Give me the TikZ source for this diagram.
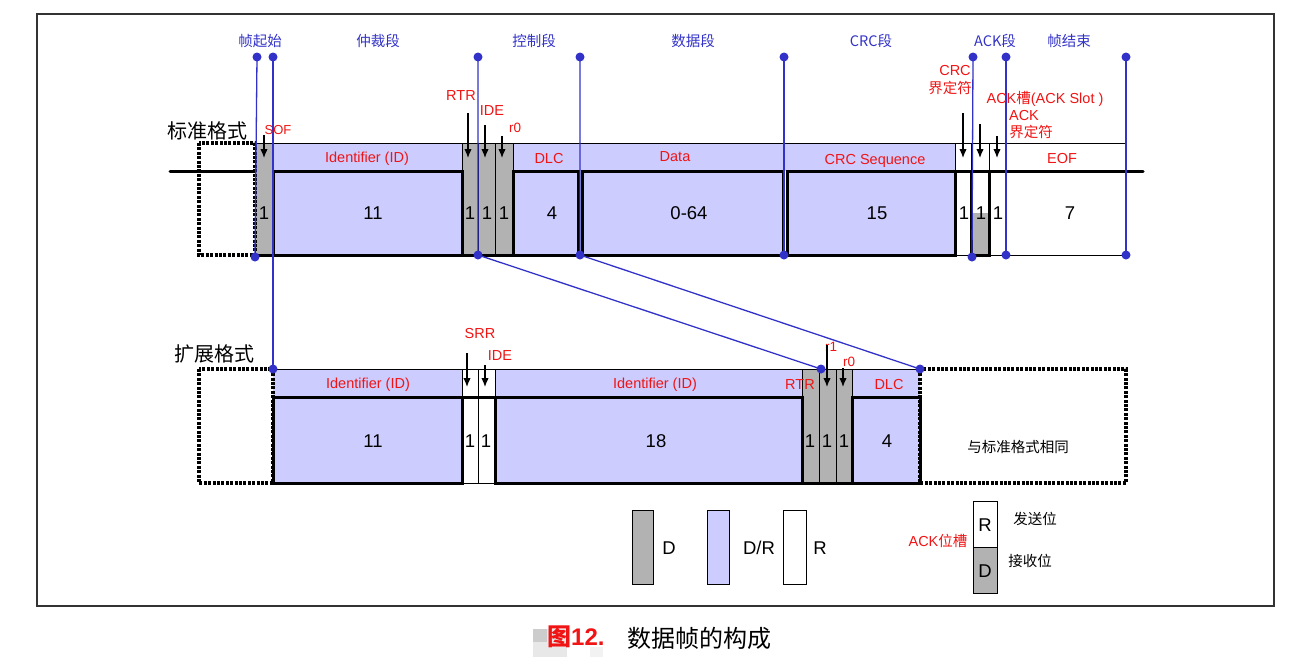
\documentclass[tikz,border=0pt]{standalone}
\usepackage{fontspec}
\setmainfont{Liberation Sans}
\newfontfamily\cjk{Noto Sans CJK SC}
\usepackage{tikz}
\usetikzlibrary{calc, arrows.meta}
\tikzset{>={Latex[length=9pt,width=7.5pt]}}
\definecolor{idblue}{RGB}{204, 204, 255}
\definecolor{bitgray}{RGB}{178, 178, 178}
\definecolor{segblue}{RGB}{50, 50, 200}
\definecolor{lblred}{RGB}{240, 20, 20}
\newcommand{\fsz}[1]{\fontsize{#1}{#1}\selectfont}
\tikzset{
  wave/.style = {line width = 3pt},
  cell/.style = {draw = black, line width = 0.9pt},
  dashbox/.style = {line width = 3.2pt, dash pattern = on 3pt off 1.4pt},
  segline/.style = {segblue, line width = 1.3pt},
  bitarrow/.style = {->, line width = 1.3pt},
  redlbl/.style = {text = lblred, inner sep = 0pt, font = \fsz{14.5}},
  seglbl/.style = {text = segblue, inner sep = 0pt, font = \cjk\fsz{14.5}},
  bitnum/.style = {inner sep = 0pt, font = \fsz{18.5}},
  plainlbl/.style = {inner sep = 0pt, font = \cjk\fsz{14.5}}
}

\begin{document}
\begin{tikzpicture}[x=1pt, y=-1pt]
\useasboundingbox (0,0) rectangle (1306,662);
\draw[line width = 1.3pt, black!80] (37,14) rectangle (1274,606);

% standard frame: fills
\fill[bitgray] (255,143) rectangle (273,255);
\fill[idblue] (273,143) rectangle (462,255);
\fill[bitgray] (462,143) rectangle (513,255);
\fill[idblue] (513,143) rectangle (955,171);
\fill[idblue] (513,171) rectangle (578,255);
\fill[idblue] (582,171) rectangle (783,255);
\fill[idblue] (787,171) rectangle (955,255);
\fill[bitgray] (971,213) rectangle (989,255);
% standard frame: thin cells
\draw[cell] (255,143) -- (1126,143);
\foreach \x in {255, 273, 462, 478, 495, 513, 955, 971, 989, 1005, 1126}
  \draw[cell] (\x,143) -- (\x,255);
\draw[cell] (955,255) -- (1126,255);
\draw[dashbox] (199,143) rectangle (255,255);
% standard frame: bit levels
\draw[wave, line cap = round] (170,171) -- (255,171);
\draw[wave] (255,255) -- (513,255);
\draw[wave] (273,171) rectangle (462,255);
\draw[wave] (513,171) rectangle (578,255);
\draw[wave] (582,171) rectangle (783,255);
\draw[wave] (787,171) rectangle (955,255);
\draw[wave, line cap = round] (955,171) -- (1143,171);
\draw[wave] (971,171) -- (971,255) -- (989,255) -- (989,171);

% extended frame: fills
\fill[idblue] (273,369) rectangle (462,483);
\fill[idblue] (495,369) rectangle (802,483);
\fill[bitgray] (802,369) rectangle (852,483);
\fill[idblue] (852,369) rectangle (920,483);
% extended frame: thin cells
\draw[cell] (273,369) -- (920,369);
\foreach \x in {462, 478, 495, 802, 819, 836, 852}
  \draw[cell] (\x,369) -- (\x,483);
\draw[cell] (462,483) -- (495,483);
\draw[dashbox] (199,369) rectangle (273,483);
\draw[dashbox] (920,369) rectangle (1126,483);
% extended frame: bit levels
\draw[wave] (273,397) rectangle (462,483);
\draw[wave] (462,397) -- (495,397);
\draw[wave] (495,397) rectangle (802,483);
\draw[wave] (802,483) -- (852,483);
\draw[wave] (852,397) rectangle (920,483);

% segment markers
\coordinate (sofT) at (257,57);   \coordinate (sofB) at (255,257);
\coordinate (idT) at (273,57);    \coordinate (idX) at (273,369);
\coordinate (ctlT) at (478,57);   \coordinate (ctlB) at (478,255);  \coordinate (ctlX) at (821,369);
\coordinate (datT) at (580,57);   \coordinate (datB) at (580,255);  \coordinate (datX) at (920,369);
\coordinate (crcT) at (784,57);   \coordinate (crcB) at (784,255);
\coordinate (ackT) at (973,57);   \coordinate (ackB) at (972,257);
\coordinate (ackeT) at (1006,57); \coordinate (ackeB) at (1006,255);
\coordinate (eofT) at (1126,57);  \coordinate (eofB) at (1126,255);
\draw[segline] (sofT) -- (sofB);
\draw[segline] (idT) -- (idX);
\draw[segline] (ctlT) -- (ctlB) -- (ctlX);
\draw[segline] (datT) -- (datB) -- (datX);
\draw[segline] (crcT) -- (crcB);
\draw[segline] (ackT) -- (ackB);
\draw[segline] (ackeT) -- (ackeB);
\draw[segline] (eofT) -- (eofB);
\foreach \p in {sofT, sofB, idT, idX, ctlT, ctlB, ctlX, datT, datB, datX,
                crcT, crcB, ackT, ackB, ackeT, ackeB, eofT, eofB}
  \fill[segblue] (\p) circle (4.5pt);

% segment names
\node[seglbl] (segSOF) at (260,41) {帧起始};
\node[seglbl] (segARB) at (378,41) {仲裁段};
\node[seglbl] (segCTL) at (534,41) {控制段};
\node[seglbl] (segDAT) at (693,41) {数据段};
\node[seglbl] (segCRC) at (871,41) {CRC段};
\node[seglbl] (segACK) at (995,41) {ACK段};
\node[seglbl] (segEOF) at (1069,41) {帧结束};

\node[inner sep = 0pt, font = \cjk\fsz{20}] (stdName) at (207,131) {标准格式};
\node[inner sep = 0pt, font = \cjk\fsz{20}] (extName) at (214,354) {扩展格式};

% standard frame: field names
\node[redlbl, font = \fsz{13}] (lSOF) at (278,130) {SOF};
\node[redlbl] (lRTR) at (461,96) {RTR};
\node[redlbl] (lIDE) at (492,111) {IDE};
\node[redlbl, font = \fsz{13.5}] (lR0) at (515,128) {r0};
\node[redlbl] (lID) at (367,159) {Identifier (ID)};
\node[redlbl] (lDLC) at (549,159) {DLC};
\node[redlbl] (lDATA) at (675,157) {Data};
\node[redlbl] (lCRC) at (875,161) {CRC Sequence};
\node[redlbl] (lEOF) at (1062,159) {EOF};
\node[redlbl] (lCRCd) at (955,71) {CRC};
\node[redlbl, font = \cjk\fsz{14.5}] (lCRCd2) at (950,88) {界定符};
\node[redlbl] (lSLOT) at (1045,99) {ACK{\cjk 槽}(ACK Slot )};
\node[redlbl] (lACKd) at (1024,116) {ACK};
\node[redlbl, font = \cjk\fsz{14.5}] (lACKd2) at (1031,132) {界定符};

\foreach \n/\x/\y in {sof/264/135, rtr/468/113, ide/485/125, rz/502/136,
                      crcd/963/113, slot/980/124, ackd/997/136}
{
  \coordinate (\n top) at (\x,\y);
  \coordinate (\n tip) at (\x,158);
  \draw[bitarrow] (\n top) -- (\n tip);
}

% standard frame: bit counts
\foreach \x/\t in {264/1, 373/11, 470/1, 487/1, 504/1, 552/4, 689/0-64,
                   877/15, 964/1, 981/1, 998/1, 1070/7}
  \node[bitnum] at (\x,213) {\t};

% extended frame: field names
\node[redlbl] (eSRR) at (480,334) {SRR};
\node[redlbl] (eIDE) at (500,356) {IDE};
\node[redlbl] (eID) at (368,385) {Identifier (ID)};
\node[redlbl] (eIDx) at (655,385) {Identifier (ID)};
\node[redlbl] (eRTR) at (800,385) {RTR};
\node[redlbl, font = \fsz{13.5}] (eR1) at (831,347) {r1};
\node[redlbl, font = \fsz{13.5}] (eR0) at (849,362) {r0};
\node[redlbl] (eDLC) at (889,385) {DLC};
\node[plainlbl] (eSame) at (1018,447) {与标准格式相同};

\foreach \n/\x/\y in {srr/467/353, eide/485/365, rone/827/345, ezero/843/368}
{
  \coordinate (\n top) at (\x,\y);
  \coordinate (\n tip) at (\x,387);
  \draw[bitarrow] (\n top) -- (\n tip);
}

% extended frame: bit counts
\foreach \x/\t in {373/11, 470/1, 486/1, 656/18, 810/1, 827/1, 844/1, 887/4}
  \node[bitnum] at (\x,441) {\t};

% legend
\draw[cell, fill = bitgray] (632,510) rectangle (653,584);
\node[bitnum] (keyD) at (669,548) {D};
\draw[cell, fill = idblue] (707,510) rectangle (729,584);
\node[bitnum] (keyDR) at (759,548) {D/R};
\draw[cell] (783,510) rectangle (806,584);
\node[bitnum] (keyR) at (820,548) {R};

\draw[cell] (973,501) rectangle (997,547);
\draw[cell, fill = bitgray] (973,547) rectangle (997,593);
\node[bitnum] (slotR) at (985,525) {R};
\node[bitnum] (slotD) at (985,571) {D};
\node[redlbl] (slotName) at (938,541) {ACK{\cjk 位槽}};
\node[plainlbl] (slotTx) at (1035,519) {发送位};
\node[plainlbl] (slotRx) at (1030,561) {接收位};

% caption
\fill[gray!18] (533,629) rectangle (567,657);
\fill[gray!40] (533,629) rectangle (547,642);
\fill[gray!10] (590,647) rectangle (603,657);
\node[inner sep = 0pt, anchor = west, text = lblred, font = \bfseries\fsz{24}] (capNum)
  at (547,637) {{\cjk 图}12.};
\node[inner sep = 0pt, anchor = west, font = \cjk\fsz{24}] (capText)
  at (627,638) {数据帧的构成};
\end{tikzpicture}
\end{document}
